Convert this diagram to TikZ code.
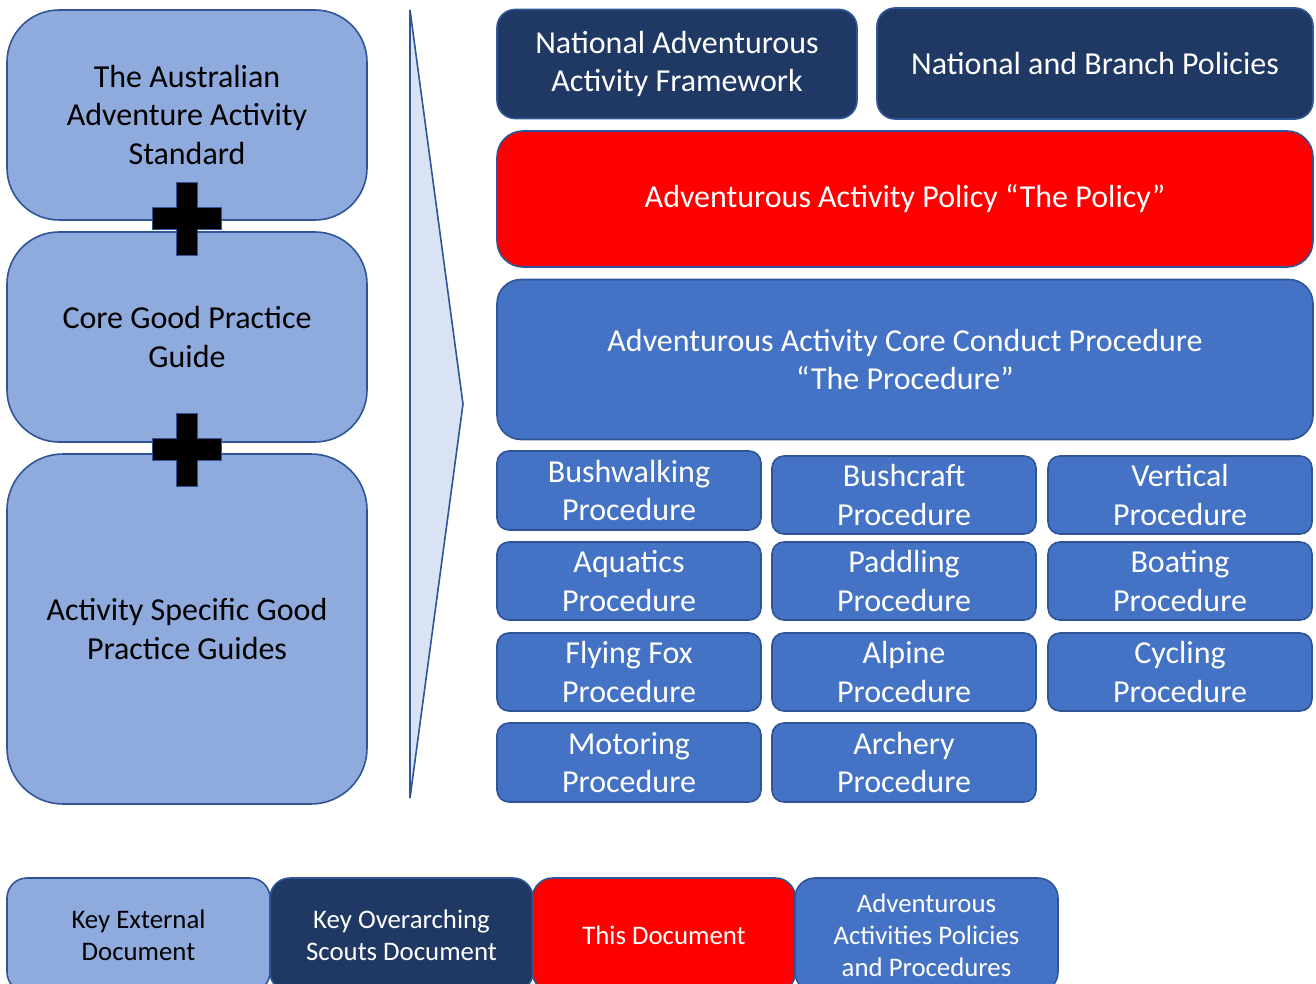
\documentclass[tikz,border=0pt]{standalone}
\usepackage{fontspec}
\setmainfont{Carlito}
\definecolor{lightfill}{HTML}{8FAADC}
\definecolor{edgeblue}{HTML}{2F5597}
\definecolor{navyfill}{HTML}{203864}
\definecolor{midblue}{HTML}{4472C4}
\definecolor{pale}{HTML}{DAE3F3}
\definecolor{policyred}{HTML}{FF0000}
\tikzset{
  doc/.style={draw=edgeblue, line width=1.6pt, inner sep=0pt, align=center,
    font=\fontsize{32}{38.5}\selectfont},
  external/.style={doc, fill=lightfill, text=black, rounded corners=52pt},
  overarching/.style={doc, fill=navyfill, text=white, rounded corners=18pt},
  thisdoc/.style={doc, fill=policyred, text=white, rounded corners=26pt},
  family/.style={doc, fill=midblue, text=white, rounded corners=24pt},
  proc/.style={doc, fill=midblue, text=white, rounded corners=12pt,
    minimum width=264pt},
  legend/.style={doc, rounded corners=20pt, minimum width=263pt,
    minimum height=114pt, font=\fontsize{26.8}{32}\selectfont},
  plus/.style={fill=black, draw=edgeblue, line width=1pt},
}
\begin{document}
\begin{tikzpicture}[x=1pt, y=-1pt]
\useasboundingbox (0,0) rectangle (1316,984);
\clip (0,0) rectangle (1316,984);

% external standards and guides
\node[external, minimum width=360pt, minimum height=210pt] (aaas) at (187,115)
  {The Australian\\Adventure Activity\\Standard};
\node[external, minimum width=360pt, minimum height=210pt] (cgpg) at (187,337)
  {Core Good Practice\\Guide};
\node[external, minimum width=360pt, minimum height=350pt, rounded corners=56pt] (asgpg) at (187,629)
  {Activity Specific Good\\Practice Guides};

% plus signs between the guides
\foreach \cy in {219,449} {
  \path[plus] (176,\cy-36) -- (197,\cy-36) -- (197,\cy-11) -- (221,\cy-11)
    -- (221,\cy+11) -- (197,\cy+11) -- (197,\cy+37) -- (176,\cy+37)
    -- (176,\cy+11) -- (152,\cy+11) -- (152,\cy-11) -- (176,\cy-11) -- cycle;
}

% chevron pointing at the scouts documents
\path[fill=pale, draw=edgeblue, line width=1.6pt, line join=miter]
  (410,10) -- (463,404) -- (410,798) -- cycle;

% overarching scouts documents
\node[overarching, minimum width=360pt, minimum height=109pt] (naaf) at (677,64)
  {National Adventurous\\Activity Framework};
\node[overarching, minimum width=436pt, minimum height=111pt] (nbp) at (1095,63.5)
  {National and Branch Policies};

% this document
\node[thisdoc, minimum width=816pt, minimum height=136pt] (policy) at (905,199)
  {Adventurous Activity Policy “The Policy”};

% core procedure
\node[family, minimum width=816pt, minimum height=160pt] (core) at (905,359.5)
  {Adventurous Activity Core Conduct Procedure\\“The Procedure”};

% activity procedures
\node[proc, minimum height=79pt] (bush) at (629,490.5) {Bushwalking\\Procedure};
\node[proc, minimum height=78pt] (craft) at (904,495) {Bushcraft\\Procedure};
\node[proc, minimum height=78pt] (vert) at (1180,495) {Vertical\\Procedure};
\node[proc, minimum height=78pt] (aqua) at (629,581) {Aquatics\\Procedure};
\node[proc, minimum height=78pt] (padd) at (904,581) {Paddling\\Procedure};
\node[proc, minimum height=78pt] (boat) at (1180,581) {Boating\\Procedure};
\node[proc, minimum height=78pt] (ffox) at (629,672) {Flying Fox\\Procedure};
\node[proc, minimum height=78pt] (alp) at (904,672) {Alpine\\Procedure};
\node[proc, minimum height=78pt] (cyc) at (1180,672) {Cycling\\Procedure};
\node[proc, minimum height=79pt] (motor) at (629,762.5) {Motoring\\Procedure};
\node[proc, minimum height=79pt] (arch) at (904,762.5) {Archery\\Procedure};

% legend
\node[legend, fill=lightfill, text=black] (keyext) at (138.5,935)
  {Key External\\Document};
\node[legend, fill=navyfill, text=white] (keyover) at (401.5,935)
  {Key Overarching\\Scouts Document};
\node[legend, fill=policyred, text=white] (keythis) at (664,935)
  {This Document};
\node[legend, fill=midblue, text=white] (keyfam) at (926.5,935)
  {Adventurous\\Activities Policies\\and Procedures};
\end{tikzpicture}
\end{document}
